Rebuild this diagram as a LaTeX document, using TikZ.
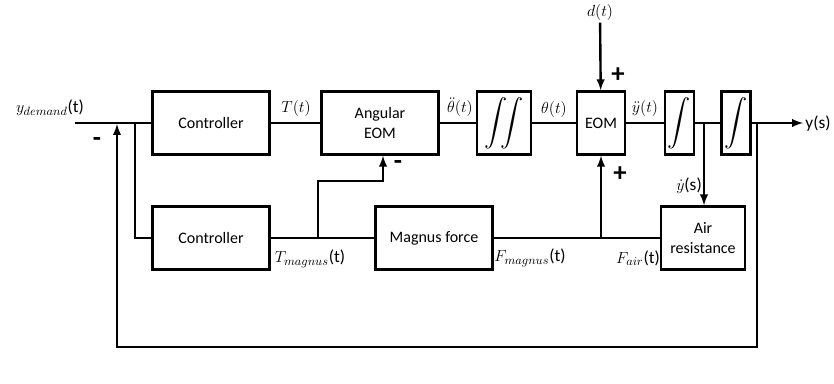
\documentclass[tikz,border=0pt]{standalone}
\usepackage{amsmath}
\usepackage{fontspec}
\setmainfont{Carlito}

\begin{document}
\begin{tikzpicture}[x=0.75pt,y=-0.75pt,line width=1.8pt,
  block/.style={draw,inner sep=0pt,align=center,minimum height=47.25pt,
    font=\fontsize{12}{15}\selectfont},
  wide/.style={block,minimum width=87.5pt},
  sig/.style={->,>=latex},
  lbl/.style={font=\fontsize{13}{15}\selectfont,inner sep=0pt},
  sign/.style={font=\fontsize{20}{20}\selectfont\bfseries,inner sep=0pt}]
  \useasboundingbox (0,0) rectangle (834,383);
  % upper path
  \node[wide] (ctrlA) at (211,123) {Controller};
  \node[wide] (angEOM) at (380,123) {Angular\\EOM};
  \node[block,minimum width=40.5pt] (dint) at (504,123) {\scalebox{1.45}{$\displaystyle\iint$}};
  \node[block,minimum width=36pt] (eom) at (601,123) {EOM};
  \node[block,minimum width=21.75pt] (intA) at (679.5,123) {\scalebox{1.45}{$\displaystyle\int$}};
  \node[block,minimum width=21.75pt] (intB) at (736,123) {\scalebox{1.45}{$\displaystyle\int$}};
  % lower path
  \node[wide] (ctrlB) at (211,238) {Controller};
  \node[wide] (magnus) at (434,238) {Magnus force};
  \node[block,minimum width=63pt] (air) at (703,238) {Air\\resistance};
  \node[lbl,inner sep=1pt] (d) at (600,12) {$d(t)$};
  % junctions
  \coordinate (in) at (75,123);
  \coordinate (split) at (135,123);
  \coordinate (fbin) at (117,124);
  \coordinate (fbout) at (757,123);
  \coordinate (fbl) at (117,347);
  \coordinate (tm) at (318,238);
  \coordinate (tmup) at (383,181);
  \coordinate (fm) at (601,238);
  \coordinate (yd) at (704,123);
  \coordinate (yout) at (803,123);

  \draw (in) -- (ctrlA);
  \draw (split) |- (ctrlB);
  \draw (ctrlA) -- (angEOM) -- (dint) -- (eom) -- (intA) -- (intB);
  \draw[sig] (intB) -- (yout);
  \draw[sig] (d) -- (eom);
  \draw[sig] (yd) -- (yd |- air.north);
  \draw (ctrlB) -- (magnus) -- (air);
  \draw[sig] (tm) |- (tmup) -- (tmup |- angEOM.south);
  \draw[sig] (fm) -- (eom);
  \draw[sig] (fbout) |- (fbl) -- (fbin);

  % labels
  \node[lbl] at (50,108) {$y_{demand}$(t)};
  \node[lbl] at (296,108) {$T(t)$};
  \node[lbl] at (460,107) {$\ddot{\theta}(t)$};
  \node[lbl] at (554,109) {$\theta(t)$};
  \node[lbl] at (645,108) {$\ddot{y}(t)$};
  \node[lbl] at (818,124) {y(s)};
  \node[lbl] at (689,186) {$\dot{y}$(s)};
  \node[lbl] at (310,259) {$T_{magnus}$(t)};
  \node[lbl] at (530,258) {$F_{magnus}$(t)};
  \node[lbl] at (638,258) {$F_{air}$(t)};
  % signs
  \node[sign] at (97,142) {-};
  \node[sign] at (398,165) {-};
  \node[sign] at (618,75) {+};
  \node[sign] at (620,174) {+};
\end{tikzpicture}
\end{document}
